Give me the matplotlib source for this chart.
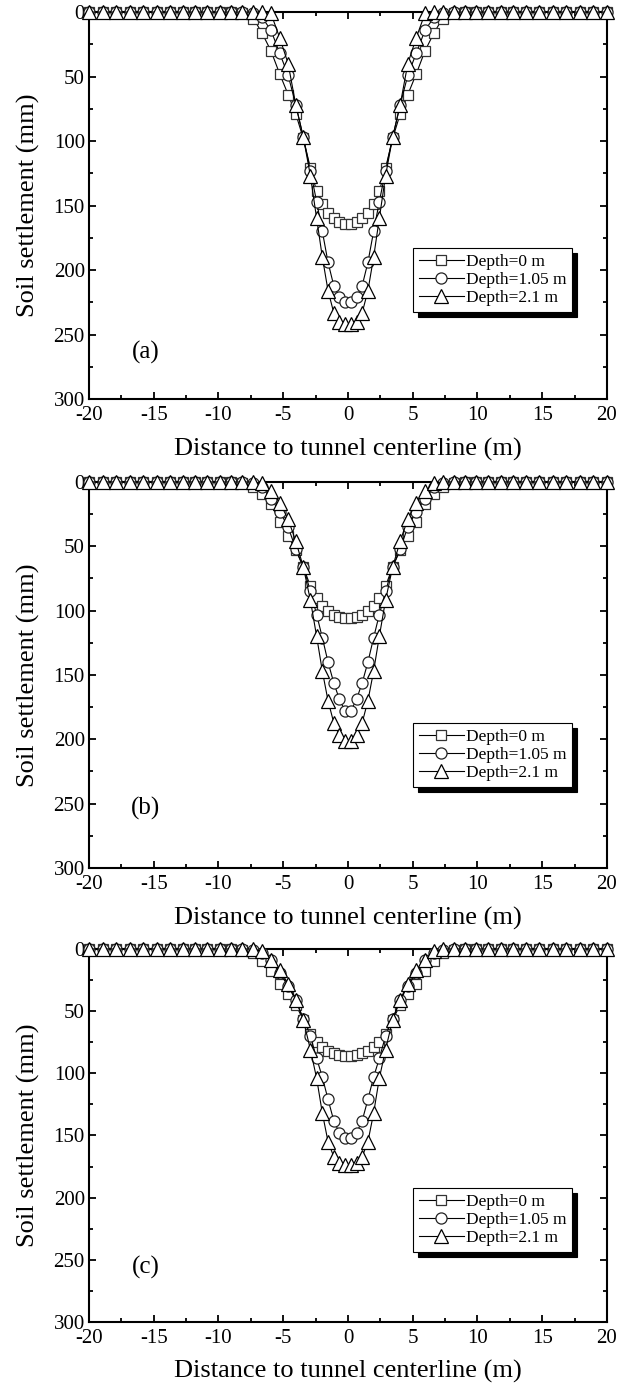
import matplotlib.pyplot as plt
from matplotlib.ticker import MultipleLocator

plt.rcParams['font.family'] = 'Liberation Serif'
plt.rcParams['axes.unicode_minus'] = False

# distance to tunnel centerline (m)
x_pos = [-20.0, -18.95, -17.9, -16.85, -15.8, -14.75, -13.75, -12.75, -11.8, -10.85, -9.9, -9.0, -8.15,
         -7.3, -6.65, -5.95, -5.27, -4.62, -4.03, -3.45, -2.9, -2.42, -1.98, -1.54, -1.1, -0.66, -0.22,
         0.22, 0.66, 1.1, 1.54, 1.98, 2.42, 2.9, 3.45, 4.03, 4.62, 5.27, 5.95, 6.65, 7.3,
         8.15, 9.0, 9.9, 10.85, 11.8, 12.75, 13.75, 14.75, 15.8, 16.85, 17.9, 18.95, 20.0]

# soil settlement (mm), panel (a)
sq_a = [0, 0, 0, 0, 0, 0, 0, 0, 0, 0, 0, 0, 1, 5, 16, 30, 48, 64, 79, 98, 121, 139, 149, 156, 160, 163, 164,
        164, 163, 160, 156, 149, 139, 121, 98, 79, 64, 48, 30, 16, 5, 1, 0, 0, 0, 0, 0, 0, 0, 0, 0, 0, 0, 0]
ci_a = [0, 0, 0, 0, 0, 0, 0, 0, 0, 0, 0, 0, 0, 1, 4, 14, 32, 49, 72, 97, 123, 147, 170, 194, 212, 221, 225,
        225, 221, 212, 194, 170, 147, 123, 97, 72, 49, 32, 14, 4, 1, 0, 0, 0, 0, 0, 0, 0, 0, 0, 0, 0, 0, 0]
tr_a = [0, 0, 0, 0, 0, 0, 0, 0, 0, 0, 0, 0, 0, 0, 0, 1, 20, 40, 72, 97, 127, 160, 190, 216, 233, 240, 242,
        242, 240, 233, 216, 190, 160, 127, 97, 72, 40, 20, 1, 0, 0, 0, 0, 0, 0, 0, 0, 0, 0, 0, 0, 0, 0, 0]

# panel (b)
sq_b = [0, 0, 0, 0, 0, 0, 0, 0, 0, 0, 0, 0, 1, 4, 9, 17, 31, 42, 53, 66, 81, 90, 96, 100, 103, 105, 106,
        106, 105, 103, 100, 96, 90, 81, 66, 53, 42, 31, 17, 9, 4, 1, 0, 0, 0, 0, 0, 0, 0, 0, 0, 0, 0, 0]
ci_b = [0, 0, 0, 0, 0, 0, 0, 0, 0, 0, 0, 0, 0, 1, 4, 13, 23, 35, 52, 66, 85, 103, 121, 140, 156, 169, 178,
        178, 169, 156, 140, 121, 103, 85, 66, 52, 35, 23, 13, 4, 1, 0, 0, 0, 0, 0, 0, 0, 0, 0, 0, 0, 0, 0]
tr_b = [0, 0, 0, 0, 0, 0, 0, 0, 0, 0, 0, 0, 0, 0, 1, 7, 16, 29, 46, 66, 92, 120, 147, 170, 187, 197, 201,
        201, 197, 187, 170, 147, 120, 92, 66, 46, 29, 16, 7, 1, 0, 0, 0, 0, 0, 0, 0, 0, 0, 0, 0, 0, 0, 0]

# panel (c)
sq_c = [0, 0, 0, 0, 0, 0, 0, 0, 0, 0, 0, 0, 1, 3, 10, 18, 28, 36, 45, 57, 68, 75, 79, 82, 84, 85, 86,
        86, 85, 84, 82, 79, 75, 68, 57, 45, 36, 28, 18, 10, 3, 1, 0, 0, 0, 0, 0, 0, 0, 0, 0, 0, 0, 0]
ci_c = [0, 0, 0, 0, 0, 0, 0, 0, 0, 0, 0, 0, 0, 1, 3, 9, 19, 30, 41, 56, 70, 88, 103, 121, 138, 148, 152,
        152, 148, 138, 121, 103, 88, 70, 56, 41, 30, 19, 9, 3, 1, 0, 0, 0, 0, 0, 0, 0, 0, 0, 0, 0, 0, 0]
tr_c = [0, 0, 0, 0, 0, 0, 0, 0, 0, 0, 0, 0, 0, 0, 2, 9, 17, 28, 41, 57, 81, 104, 132, 155, 167, 172, 174,
        174, 172, 167, 155, 132, 104, 81, 57, 41, 28, 17, 9, 2, 0, 0, 0, 0, 0, 0, 0, 0, 0, 0, 0, 0, 0, 0]

labels = ['Depth=0 m', 'Depth=1.05 m', 'Depth=2.1 m']
panels = [('(a)', sq_a, ci_a, tr_a), ('(b)', sq_b, ci_b, tr_b), ('(c)', sq_c, ci_c, tr_c)]

# axes boxes in figure fraction: left, bottom, width, height
boxes = [[0.1435, 0.7123, 0.8355, 0.2790],
         [0.1435, 0.3742, 0.8355, 0.2783],
         [0.1435, 0.0469, 0.8355, 0.2689]]
legend_y = [0.39, 0.375, 0.36]
tag_y = [0.12, 0.155, 0.145]

fig = plt.figure(figsize=(6.2, 13.87), dpi=100)

for i, (tag, sq, ci, tr) in enumerate(panels):
    ax = fig.add_axes(boxes[i])
    ax.plot(x_pos, sq, color='black', lw=0.8, marker='s', ms=7, mfc='white', mec='#333333', mew=0.9,
            label=labels[0], clip_on=False, zorder=3)
    ax.plot(x_pos, ci, color='black', lw=0.8, marker='o', ms=8, mfc='white', mec='#222222', mew=0.9,
            label=labels[1], clip_on=False, zorder=4)
    ax.plot(x_pos, tr, color='black', lw=0.8, marker='^', ms=10, mfc='white', mec='black', mew=0.9,
            label=labels[2], clip_on=False, zorder=5)

    ax.set_xlim(-20, 20)
    ax.set_ylim(300, 0)
    ax.xaxis.set_major_locator(MultipleLocator(5))
    ax.xaxis.set_minor_locator(MultipleLocator(2.5))
    ax.yaxis.set_major_locator(MultipleLocator(50))
    ax.yaxis.set_minor_locator(MultipleLocator(25))
    ax.tick_params(which='both', direction='in', top=True, right=True, width=1.3, labelsize=15)
    ax.tick_params(axis='x', pad=5)
    ax.tick_params(axis='y', pad=3)
    ax.tick_params(which='major', length=5)
    ax.tick_params(which='minor', length=3)
    for s in ax.spines.values():
        s.set_linewidth(1.5)

    ax.set_xlabel('Distance to tunnel centerline (m)', fontsize=19, labelpad=9)
    ax.set_ylabel('Soil settlement (mm)', fontsize=19, labelpad=10)
    ax.text(0.11, tag_y[i], tag, transform=ax.transAxes, fontsize=18, ha='center', va='center')

    ax.legend(loc='upper left', bbox_to_anchor=(0.625, legend_y[i]), fontsize=12.5, frameon=True,
              fancybox=False, edgecolor='black', framealpha=1, handlelength=2.6, handletextpad=0.1,
              labelspacing=0.1, borderpad=0.35, borderaxespad=0,
              shadow={'color': 'black', 'alpha': 1, 'ox': 3.5, 'oy': -3.5})
    ax.get_legend().get_frame().set_linewidth(0.8)

plt.savefig('out.png')
